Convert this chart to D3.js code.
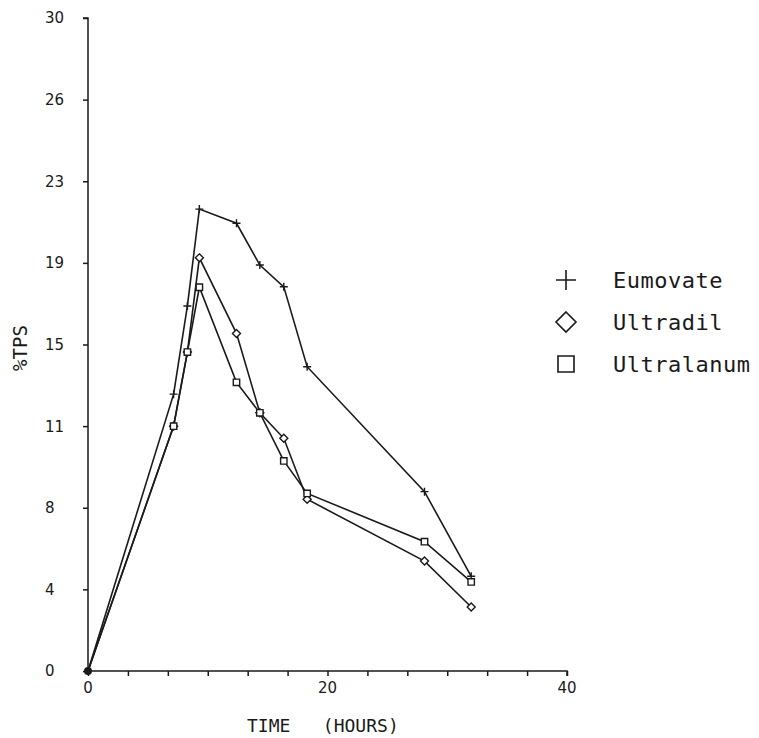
<!DOCTYPE html>
<html>
<head>
<meta charset="utf-8">
<script src="https://cdn.jsdelivr.net/npm/d3@7"></script>
<style>
    html, body { margin: 0; padding: 0; background: #fff; }
    svg { display: block; }
</style>
</head>
<body>
<svg id="chart" width="759" height="738"></svg>
<script>
// Sampling times (hours) shared by all three series
const hours = [0, 7.15, 8.3, 9.3, 12.4, 14.35, 16.35, 18.3, 28.1, 32];

// %TPS values
const eumovate   = [0, 12.72, 16.77, 21.22, 20.57, 18.65, 17.65, 13.98, 8.24, 4.35];
const ultradil   = [0, 11.25, 14.65, 18.98, 15.51, 11.86, 10.69, 7.89, 5.05, 2.94];
const ultralanum = [0, 11.25, 14.65, 17.63, 13.26, 11.86, 9.65, 8.16, 5.94, 4.09];

const seriesNames = ["Eumovate", "Ultradil", "Ultralanum"];
const seriesShapes = ["plus", "diamond", "square"];

// Axis ticks: 8 equal steps on y, 12 equal steps on x
const yTickLabels = ["0", "4", "8", "11", "15", "19", "23", "26", "30"];
const xTickLabels = ["0", "20", "40"];

document.addEventListener('DOMContentLoaded', () => {
    const svg = d3.select("#chart");
    const ink = "#1a1a1a";

    const x = d3.scaleLinear().domain([0, 40]).range([88, 567]);
    const y = d3.scaleLinear().domain([0, 30]).range([671, 18]);

    const series = [eumovate, ultradil, ultralanum].map((vals, i) => ({
        name: seriesNames[i],
        shape: seriesShapes[i],
        points: vals.map((v, j) => ({ t: hours[j], v: v }))
    }));

    // Marker path for a given shape and half-size
    function markerPath(shape, r) {
        if (shape === "plus")
            return `M${-r},0H${r}M0,${-r}V${r}`;
        if (shape === "diamond")
            return `M0,${-r}L${r},0L0,${r}L${-r},0Z`;
        return `M${-r},${-r}H${r}V${r}H${-r}Z`;
    }

    // Y axis with ticks to the left
    const yAxis = svg.append("g")
        .attr("transform", `translate(${x(0)},0)`)
        .call(d3.axisLeft(y)
            .tickValues(d3.range(0, 9).map(i => i * 30 / 8))
            .tickSize(5)
            .tickFormat(""));
    yAxis.select(".domain").attr("d", `M-5,${y(30)}H0V${y(0)}`);

    // X axis with ticks hanging below
    const xAxis = svg.append("g")
        .attr("transform", `translate(0,${y(0)})`)
        .call(d3.axisBottom(x)
            .tickValues(d3.range(0, 13).map(i => i * 40 / 12))
            .tickSize(5)
            .tickFormat(""));
    xAxis.select(".domain").attr("d", `M${x(0)},0H${x(40)}V5`);

    svg.selectAll(".domain, .tick line")
        .attr("stroke", ink)
        .attr("stroke-width", 1.5);

    // Tick labels
    svg.append("g")
        .selectAll("text")
        .data(yTickLabels)
        .join("text")
        .attr("x", 45)
        .attr("y", (d, i) => y(i * 30 / 8))
        .attr("dy", "0.36em")
        .attr("font-family", "DejaVu Sans")
        .attr("font-size", 15)
        .attr("fill", ink)
        .text(d => d);

    svg.append("g")
        .selectAll("text")
        .data(xTickLabels)
        .join("text")
        .attr("x", d => x(+d))
        .attr("y", 688)
        .attr("dy", "0.36em")
        .attr("text-anchor", "middle")
        .attr("font-family", "DejaVu Sans")
        .attr("font-size", 15)
        .attr("fill", ink)
        .text(d => d);

    // Axis titles
    svg.append("text")
        .attr("x", 247)
        .attr("y", 732)
        .attr("font-family", "DejaVu Sans Mono")
        .attr("font-size", 18)
        .attr("fill", ink)
        .attr("xml:space", "preserve")
        .text("TIME   (HOURS)");

    svg.append("text")
        .attr("transform", "translate(27,348) rotate(-90)")
        .attr("text-anchor", "middle")
        .attr("font-family", "DejaVu Sans Mono")
        .attr("font-size", 19)
        .attr("fill", ink)
        .text("%TPS");

    // Lines
    const line = d3.line().x(d => x(d.t)).y(d => y(d.v));
    svg.append("g")
        .selectAll("path")
        .data(series)
        .join("path")
        .attr("d", d => line(d.points))
        .attr("fill", "none")
        .attr("stroke", ink)
        .attr("stroke-width", 1.6);

    // Markers
    const markerGroups = svg.append("g")
        .selectAll("g")
        .data(series)
        .join("g");
    markerGroups.selectAll("path")
        .data(d => d.points.slice(1).map(p => ({ ...p, shape: d.shape })))
        .join("path")
        .attr("transform", d => `translate(${x(d.t)},${y(d.v)})`)
        .attr("d", d => markerPath(d.shape, d.shape === "square" ? 3.2 : 4))
        .attr("fill", d => d.shape === "plus" ? "none" : "#fff")
        .attr("stroke", ink)
        .attr("stroke-width", 1.4);

    // Filled blob at the origin where all series start
    svg.append("circle")
        .attr("cx", x(0))
        .attr("cy", y(0))
        .attr("r", 4)
        .attr("fill", ink);

    // Legend
    const legend = svg.append("g")
        .selectAll("g")
        .data(series)
        .join("g")
        .attr("transform", (d, i) => `translate(566,${280 + i * 42})`);
    legend.append("path")
        .attr("d", d => markerPath(d.shape, d.shape === "square" ? 8 : 10))
        .attr("fill", "none")
        .attr("stroke", ink)
        .attr("stroke-width", 1.6);
    legend.append("text")
        .attr("x", 47)
        .attr("dy", "0.36em")
        .attr("font-family", "DejaVu Sans Mono")
        .attr("font-size", 22)
        .attr("letter-spacing", 0.5)
        .attr("fill", ink)
        .text(d => d.name);
});
</script>
</body>
</html>
